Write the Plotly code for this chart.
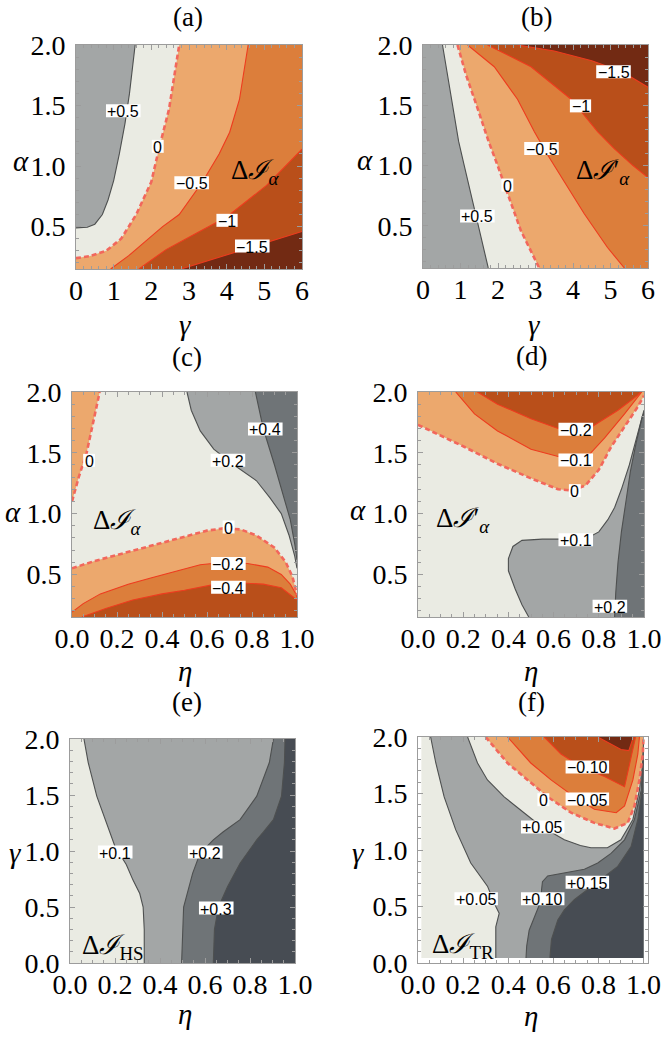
import plotly.graph_objects as go

W, H = 663, 1044

# ---------------- colours ----------------
CREAM = "#EAEBE3"
GRAY1 = "#A3A6A6"
GRAY2 = "#6F7477"
GRAY3 = "#474C53"
OR1 = "#ECA86D"
OR2 = "#DC7E3B"
OR3 = "#B94F1A"
OR4 = "#722A13"
LINE_COL = {"pos": "#4E5050", "neg": "#EE3B1E", "zero": "#F2675C"}

# ---------------- data: contour curves ----------------
# panel (a): x = gamma, y = alpha
a_p05 = [(0.0, 0.49), (0.3, 0.495), (0.5, 0.52), (0.7, 0.6), (0.85, 0.72), (1.0, 0.88),
         (1.15, 1.1), (1.3, 1.35), (1.42, 1.6), (1.57, 2.0)]
a_z = [(0.0, 0.24), (0.35, 0.255), (0.8, 0.3), (1.2, 0.4), (1.6, 0.6), (2.0, 0.87),
       (2.2, 1.14), (2.47, 1.47), (2.74, 2.0)]
a_m05 = [(0.92, 0.15), (1.4, 0.26), (1.85, 0.38), (2.3, 0.5), (2.74, 0.6), (3.36, 0.87),
         (3.8, 1.1), (4.08, 1.28), (4.34, 1.55), (4.57, 2.0)]
a_m1 = [(1.67, 0.15), (2.39, 0.31), (3.28, 0.46), (4.0, 0.58), (5.06, 0.84), (6.0, 1.14)]
a_m15 = [(2.79, 0.15), (3.5, 0.22), (4.66, 0.33), (6.0, 0.46)]
a_labels = [("+0.5", 1.255, 1.457), ("0", 2.17, 1.163), ("−0.5", 3.07, 0.863),
            ("−1", 4.01, 0.552), ("−1.5", 4.68, 0.339)]

# panel (b): x = gamma, y = alpha
b_p05 = [(0.52, 2.0), (0.65, 1.75), (0.79, 1.47), (0.95, 1.2), (1.10, 1.0), (1.25, 0.8),
         (1.41, 0.6), (1.6, 0.35), (1.74, 0.15)]
b_z = [(0.92, 2.0), (1.15, 1.75), (1.46, 1.47), (1.75, 1.2), (1.99, 1.0), (2.3, 0.73),
       (2.61, 0.46), (3.1, 0.15)]
b_m05 = [(1.19, 2.0), (1.9, 1.82), (2.52, 1.55), (2.97, 1.28), (3.3, 1.1), (3.77, 0.87),
         (4.3, 0.6), (4.92, 0.32), (5.37, 0.15)]
b_m1 = [(1.72, 2.0), (2.88, 1.82), (3.95, 1.55), (4.66, 1.28), (5.1, 1.14), (5.6, 1.0), (6.0, 0.9)]
b_m15 = [(2.52, 2.0), (3.5, 1.95), (4.5, 1.87), (5.3, 1.78), (6.0, 1.65)]
b_labels = [("−1.5", 5.08, 1.779), ("−1", 4.20, 1.495), ("−0.5", 3.16, 1.141),
            ("0", 2.25, 0.838), ("+0.5", 1.45, 0.582)]

# panel (c): x = eta, y = alpha
c_z_top = [(0.0, 1.10), (0.03, 1.3), (0.065, 1.5), (0.095, 1.75), (0.123, 2.0)]
c_p02 = [(0.511, 2.0), (0.53, 1.85), (0.57, 1.68), (0.63, 1.53), (0.72, 1.40), (0.82, 1.27),
         (0.88, 1.13), (0.93, 1.0), (0.965, 0.82), (0.99, 0.65), (1.0, 0.55)]
c_p04 = [(0.815, 2.0), (0.85, 1.7), (0.9, 1.4), (0.94, 1.15), (0.97, 0.95), (0.99, 0.75), (1.0, 0.62)]
c_z_bot = [(0.0, 0.55), (0.1, 0.61), (0.2, 0.66), (0.3, 0.71), (0.4, 0.76), (0.5, 0.81),
           (0.6, 0.86), (0.68, 0.88), (0.75, 0.87), (0.82, 0.82), (0.9, 0.72), (0.95, 0.6),
           (0.98, 0.48), (1.0, 0.33)]
c_m02 = [(0.0, 0.19), (0.05, 0.26), (0.126, 0.34), (0.25, 0.42), (0.35, 0.47), (0.47, 0.53),
         (0.57, 0.58), (0.68, 0.60), (0.78, 0.59), (0.87, 0.56), (0.93, 0.5), (0.97, 0.42),
         (0.995, 0.34), (1.0, 0.31)]
c_m04 = [(0.044, 0.15), (0.15, 0.22), (0.27, 0.29), (0.4, 0.34), (0.5, 0.37), (0.64, 0.42),
         (0.75, 0.43), (0.85, 0.42), (0.93, 0.39), (0.975, 0.33), (1.0, 0.29)]
c_labels = [("0", 0.076, 1.438), ("+0.4", 0.859, 1.696), ("+0.2", 0.693, 1.438),
            ("0", 0.696, 0.890), ("−0.2", 0.695, 0.589), ("−0.4", 0.695, 0.395)]

# panel (d): x = eta, y = alpha
d_z = [(0.0, 1.73), (0.056, 1.68), (0.204, 1.55), (0.352, 1.41), (0.5, 1.29), (0.62, 1.20),
       (0.68, 1.19), (0.74, 1.23), (0.80, 1.36), (0.855, 1.55), (0.914, 1.71), (0.973, 1.88),
       (1.0, 1.97)]
d_m01 = [(0.167, 2.0), (0.25, 1.82), (0.352, 1.68), (0.5, 1.53), (0.62, 1.47), (0.70, 1.46),
         (0.76, 1.49), (0.825, 1.62), (0.914, 1.82), (0.99, 2.0)]
d_m02 = [(0.263, 2.0), (0.352, 1.90), (0.5, 1.78), (0.62, 1.70), (0.70, 1.69), (0.766, 1.71),
         (0.885, 1.85), (0.97, 1.97), (0.985, 2.0)]
d_p01 = [(0.49, 0.15), (0.46, 0.25), (0.43, 0.38), (0.40, 0.53), (0.40, 0.63), (0.42, 0.73),
         (0.46, 0.78), (0.55, 0.79), (0.65, 0.79), (0.75, 0.80), (0.8, 0.85), (0.84, 0.95),
         (0.87, 1.05), (0.90, 1.2), (0.935, 1.4), (0.96, 1.58), (0.985, 1.75), (1.0, 1.85)]
d_p02 = [(0.87, 0.15), (0.875, 0.35), (0.885, 0.6), (0.90, 0.85), (0.92, 1.1), (0.94, 1.35),
         (0.965, 1.58), (0.99, 1.78), (1.0, 1.83)]
d_labels = [("−0.2", 0.698, 1.693), ("−0.1", 0.698, 1.441), ("0", 0.694, 1.189),
            ("+0.1", 0.698, 0.786), ("+0.2", 0.849, 0.238)]

# panel (e): x = eta, y = gamma
e_p01 = [(0.062, 2.0), (0.081, 1.79), (0.119, 1.49), (0.156, 1.28), (0.2, 1.04), (0.25, 0.88),
         (0.28, 0.74), (0.31, 0.62), (0.325, 0.5), (0.33, 0.3), (0.33, 0.0)]
e_p02 = [(0.904, 2.0), (0.886, 1.79), (0.83, 1.49), (0.756, 1.28), (0.68, 1.17), (0.637, 1.10),
         (0.578, 0.98), (0.545, 0.80), (0.505, 0.5), (0.496, 0.0)]
e_p03 = [(0.956, 2.0), (0.953, 1.79), (0.94, 1.49), (0.904, 1.28), (0.86, 1.17), (0.83, 1.10),
         (0.756, 0.89), (0.70, 0.68), (0.66, 0.5), (0.642, 0.3), (0.637, 0.0)]
e_labels = [("+0.1", 0.201, 0.991), ("+0.2", 0.601, 0.991), ("+0.3", 0.650, 0.491)]

# panel (f): x = eta, y = gamma
f_p005_left = [(0.056, 2.0), (0.079, 1.77), (0.116, 1.47), (0.167, 1.18), (0.234, 0.885),
               (0.308, 0.68), (0.345, 0.50), (0.36, 0.44), (0.345, 0.32), (0.345, 0.15), (0.345, 0.045)]
f_p005_up = [(0.22, 2.0), (0.264, 1.77), (0.308, 1.62), (0.382, 1.47), (0.47, 1.33), (0.545, 1.21),
             (0.649, 1.09), (0.72, 1.04), (0.767, 1.02), (0.84, 1.02), (0.9, 1.09), (0.953, 1.27),
             (0.982, 1.53), (0.997, 1.77), (1.0, 1.95)]
f_p010 = [(0.479, 0.045), (0.482, 0.15), (0.493, 0.29), (0.523, 0.44), (0.545, 0.55), (0.548, 0.65),
          (0.552, 0.72), (0.575, 0.77), (0.649, 0.80), (0.738, 0.83), (0.797, 0.885), (0.856, 0.97),
          (0.916, 1.09), (0.96, 1.27), (0.99, 1.53), (1.0, 1.9)]
f_p015 = [(0.585, 0.045), (0.592, 0.21), (0.62, 0.38), (0.649, 0.47), (0.693, 0.56), (0.753, 0.65),
          (0.812, 0.74), (0.886, 0.855), (0.945, 1.03), (0.975, 1.27), (0.994, 1.53), (1.0, 1.8)]
f_z = [(0.30, 2.0), (0.397, 1.77), (0.486, 1.62), (0.575, 1.47), (0.679, 1.33), (0.782, 1.24),
       (0.871, 1.19), (0.93, 1.24), (0.96, 1.39), (0.982, 1.62), (0.997, 1.85), (1.0, 2.0)]
f_m005 = [(0.397, 2.0), (0.5, 1.77), (0.59, 1.62), (0.68, 1.49), (0.782, 1.36), (0.879, 1.33),
          (0.916, 1.39), (0.953, 1.62), (0.975, 1.85), (0.982, 2.0)]
f_m010 = [(0.56, 2.0), (0.634, 1.85), (0.72, 1.74), (0.827, 1.65), (0.916, 1.56), (0.938, 1.77),
          (0.96, 1.95), (0.965, 2.0)]
f_m015 = [(0.797, 2.0), (0.9, 1.89), (0.935, 1.88), (0.955, 2.0)]
f_labels = [("−0.10", 0.751, 1.735), ("0", 0.556, 1.445), ("−0.05", 0.751, 1.451),
            ("+0.05", 0.553, 1.204), ("+0.15", 0.751, 0.714), ("+0.05", 0.258, 0.569),
            ("+0.10", 0.553, 0.569)]

# ---------------- panel definitions ----------------
panels = [
    dict(key="a", box=(76, 45, 302, 269), xr=(0, 6), yr=(0.15, 2.0), rect=(0, 0.15, 6, 2.0),
         base=GRAY1, xt=[0, 1, 2, 3, 4, 5, 6], xfmt=".0f", xminor=0.2, yt=[0.5, 1.0, 1.5, 2.0],
         regions=[(a_p05, ["TR", "BR", "BL"], CREAM), (a_z, ["TR", "BR", "BL"], OR1),
                  (a_m05, ["TR", "BR"], OR2), (a_m1, ["BR"], OR3), (a_m15, ["BR"], OR4)],
         lines=[(a_p05, "pos"), (a_z, "zero"), (a_m05, "neg"), (a_m1, "neg"), (a_m15, "neg")],
         labels=a_labels, tag=("Δ<i>ℐ</i><sub><i>α</i></sub>", 4.75, 0.95),
         title="(a)", tpos=(188, 17), xlab=("γ", 185, 325), ylab=("α", 21, 161)),
    dict(key="b", box=(423, 45, 648, 268), xr=(0, 6), yr=(0.15, 2.0), rect=(0, 0.15, 6, 2.0),
         base=GRAY1, xt=[0, 1, 2, 3, 4, 5, 6], xfmt=".0f", xminor=0.2, yt=[0.5, 1.0, 1.5, 2.0],
         regions=[(b_p05, ["BR", "TR"], CREAM), (b_z, ["BR", "TR"], OR1),
                  (b_m05, ["BR", "TR"], OR2), (b_m1, ["TR"], OR3), (b_m15, ["TR"], OR4)],
         lines=[(b_p05, "pos"), (b_z, "zero"), (b_m05, "neg"), (b_m1, "neg"), (b_m15, "neg")],
         labels=b_labels, tag=("Δ<i>ℐ</i>′<sub><i>α</i></sub>", 4.8, 0.95),
         title="(b)", tpos=(536, 17), xlab=("γ", 534, 325), ylab=("α", 365, 160)),
    dict(key="c", box=(72, 392, 297, 617), xr=(0, 1), yr=(0.15, 2.0), rect=(0, 0.15, 1, 2.0),
         base=CREAM, xt=[0, 0.2, 0.4, 0.6, 0.8, 1.0], xfmt=".1f", xminor=0.05, yt=[0.5, 1.0, 1.5, 2.0],
         regions=[(c_z_top, ["TL"], OR1), (c_p02, ["TR"], GRAY1), (c_p04, ["TR"], GRAY2),
                  (c_z_bot, ["BR", "BL"], OR1), (c_m02, ["BR", "BL"], OR2), (c_m04, ["BR"], OR3)],
         lines=[(c_p02, "pos"), (c_p04, "pos"), (c_m02, "neg"), (c_m04, "neg"),
                (c_z_top, "zero"), (c_z_bot, "zero")],
         labels=c_labels, tag=("Δ<i>ℐ</i><sub><i>α</i></sub>", 0.2, 0.93),
         title="(c)", tpos=(187, 357), xlab=("η", 185, 671), ylab=("α", 13, 512)),
    dict(key="d", box=(418, 392, 644, 617), xr=(0, 1), yr=(0.15, 2.0), rect=(0, 0.15, 1, 2.0),
         base=CREAM, xt=[0, 0.2, 0.4, 0.6, 0.8, 1.0], xfmt=".1f", xminor=0.05, yt=[0.5, 1.0, 1.5, 2.0],
         regions=[(d_z, ["TR", "TL"], OR1), (d_m01, [], OR2), (d_m02, [], OR3),
                  (d_p01, ["BR"], GRAY1), (d_p02, ["BR"], GRAY2)],
         lines=[(d_p01, "pos"), (d_p02, "pos"), (d_m01, "neg"), (d_m02, "neg"), (d_z, "zero")],
         labels=d_labels, tag=("Δ<i>ℐ</i>′<sub><i>α</i></sub>", 0.2, 0.95),
         title="(d)", tpos=(531, 356), xlab=("η", 531, 671), ylab=("α", 358, 510)),
    dict(key="e", box=(70, 739, 295, 963), xr=(0, 1), yr=(0, 2.0), rect=(0, 0, 1, 2.0),
         base=CREAM, xt=[0, 0.2, 0.4, 0.6, 0.8, 1.0], xfmt=".1f", xminor=0.05,
         yt=[0.0, 0.5, 1.0, 1.5, 2.0],
         regions=[(e_p01, ["BR", "TR"], GRAY1), (e_p02, ["BR", "TR"], GRAY2),
                  (e_p03, ["BR", "TR"], GRAY3)],
         lines=[(e_p01, "pos"), (e_p02, "pos"), (e_p03, "pos")],
         labels=e_labels, tag=("Δ<i>ℐ</i><sub>HS</sub>", 0.19, 0.14),
         title="(e)", tpos=(187, 702), xlab=("η", 185, 1014), ylab=("γ", 15, 853)),
    dict(key="f", box=(418, 737, 648, 963), xr=(0, 1.02), yr=(0, 2.0), rect=(0.015, 0.045, 1.0, 2.0),
         base=CREAM, xt=[0, 0.2, 0.4, 0.6, 0.8, 1.0], xfmt=".1f", xminor=0.05,
         yt=[0.0, 0.5, 1.0, 1.5, 2.0],
         regions=[(f_p005_left + [("BR",)] + f_p005_up[::-1], [], GRAY1),
                  (f_p010, ["BR"], GRAY2), (f_p015, ["BR"], GRAY3),
                  (f_z, [], OR1), (f_m005, [], OR2), (f_m010, [], OR3), (f_m015, [], OR4)],
         lines=[(f_p005_left, "pos"), (f_p005_up, "pos"), (f_p010, "pos"), (f_p015, "pos"),
                (f_z, "zero"), (f_m005, "neg"), (f_m010, "neg"), (f_m015, "neg")],
         labels=f_labels, tag=("Δ<i>ℐ</i><sub>TR</sub>", 0.2, 0.15),
         title="(f)", tpos=(531, 702), xlab=("η", 531, 1016), ylab=("γ", 358, 853)),
]

SERIF = "Liberation Serif"
SANS = "Liberation Sans"
FRAME = "#9C9C9C"
LABEL_FS = 16
TICK_FS = 28
CW = {"+": 0.584, "−": 0.584, ".": 0.278}


def text_w(s, fs):
    return sum(CW.get(ch, 0.556) for ch in s) * fs


fig = go.Figure()
layout = dict(width=W, height=H, margin=dict(l=0, r=0, t=0, b=0, autoexpand=False),
              paper_bgcolor="white", plot_bgcolor="white", showlegend=False,
              shapes=[], annotations=[])

for i, p in enumerate(panels):
    n = "" if i == 0 else str(i + 1)
    xa, ya = "x" + n, "y" + n
    x0p, y0p, x1p, y1p = p["box"]
    rx0, ry0, rx1, ry1 = p["rect"]
    corners = {"TR": (rx1, ry1), "BR": (rx1, ry0), "BL": (rx0, ry0), "TL": (rx0, ry1)}

    def pts(seq):
        out = []
        for q in seq:
            if isinstance(q[0], str):
                out.append(corners[q[0]])
            else:
                out.append(q)
        return out

    # base rectangle
    fig.add_trace(go.Scatter(x=[rx0, rx1, rx1, rx0, rx0], y=[ry0, ry0, ry1, ry1, ry0],
                             mode="lines", fill="toself", fillcolor=p["base"],
                             line=dict(width=0), hoverinfo="skip", xaxis=xa, yaxis=ya))
    for curve, cs, col in p["regions"]:
        poly = pts(curve) + [corners[c] for c in cs]
        fig.add_trace(go.Scatter(x=[q[0] for q in poly] + [poly[0][0]],
                                 y=[q[1] for q in poly] + [poly[0][1]],
                                 mode="lines", fill="toself", fillcolor=col,
                                 line=dict(width=0), hoverinfo="skip", xaxis=xa, yaxis=ya))
    for curve, kind in p["lines"]:
        if kind == "zero":
            ln = dict(color=LINE_COL[kind], width=2.6, dash="5px,3px")
        else:
            ln = dict(color=LINE_COL[kind], width=1.1)
        fig.add_trace(go.Scatter(x=[q[0] for q in curve], y=[q[1] for q in curve], mode="lines",
                                 line=ln, hoverinfo="skip", xaxis=xa, yaxis=ya))
    # contour labels
    for txt, lx, ly in p["labels"]:
        w = text_w(txt, LABEL_FS) + 3
        layout["shapes"].append(dict(type="rect", xref=xa, yref=ya, xsizemode="pixel",
                                     ysizemode="pixel", xanchor=lx, yanchor=ly,
                                     x0=-w / 2, x1=w / 2, y0=-6.5, y1=6.5, fillcolor="white",
                                     line=dict(width=0), layer="above"))
        layout["annotations"].append(dict(text=txt, x=lx, y=ly, xref=xa, yref=ya, showarrow=False,
                                          yshift=-1, font=dict(family=SANS, size=LABEL_FS,
                                                               color="black")))
    tt, tx, ty = p["tag"]
    layout["annotations"].append(dict(text=tt, x=tx, y=ty, xref=xa, yref=ya, showarrow=False,
                                      font=dict(family=SERIF, size=27, color="black")))
    # titles / axis labels in page pixels
    for txt, px, py, fs in [(p["title"], p["tpos"][0], p["tpos"][1], 27),
                            ("<i>%s</i>" % p["xlab"][0], p["xlab"][1], p["xlab"][2], 29),
                            ("<i>%s</i>" % p["ylab"][0], p["ylab"][1], p["ylab"][2], 29)]:
        layout["annotations"].append(dict(text=txt, x=px / W, y=1 - py / H, xref="paper",
                                          yref="paper", showarrow=False, xanchor="center",
                                          yanchor="middle",
                                          font=dict(family=SERIF, size=fs, color="black")))
    common = dict(showgrid=False, zeroline=False, showline=True, linecolor=FRAME, linewidth=1,
                  mirror="ticks", ticks="inside", ticklen=5, tickcolor=FRAME, tickwidth=1,
                  fixedrange=True, automargin=False,
                  tickfont=dict(family=SERIF, size=TICK_FS, color="black"))
    layout["xaxis" + n] = dict(common, domain=[x0p / W, x1p / W], range=list(p["xr"]),
                               anchor=ya, tickvals=p["xt"], tickformat=p["xfmt"],
                               ticklabelstandoff=-4,
                               minor=dict(ticks="inside", ticklen=3, tickcolor=FRAME,
                                          dtick=p["xminor"], tick0=0))
    layout["yaxis" + n] = dict(common, domain=[1 - y1p / H, 1 - y0p / H], range=list(p["yr"]),
                               anchor=xa, tickvals=p["yt"], tickformat=".1f",
                               ticklabelstandoff=4,
                               minor=dict(ticks="inside", ticklen=3, tickcolor=FRAME,
                                          dtick=0.1, tick0=0))

fig.update_layout(**layout)
fig.write_html("out.html")
